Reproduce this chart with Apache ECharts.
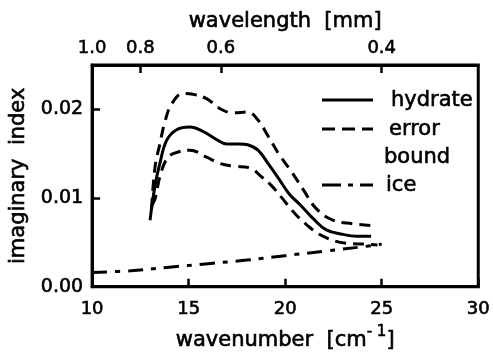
<!DOCTYPE html>
<html>
<head>
<meta charset="utf-8">
<script src="https://cdn.jsdelivr.net/npm/echarts@6/dist/echarts.min.js"></script>
<style>
  html, body { margin: 0; padding: 0; background: #fff; }
  #chart { width: 493px; height: 356px; }
</style>
</head>
<body>
<div id="chart"></div>
<script>
// wavenumber [cm-1] and imaginary index
const hydrateX = [13.0, 13.26, 13.51, 13.86, 14.38, 15.06, 15.75, 16.44, 16.96, 17.65, 18.06, 18.59, 19.11, 19.63, 20.23, 20.75, 21.44, 22.13, 22.99, 23.7, 24.45]
const hydrateY = [0.0075, 0.0114, 0.0139, 0.0165, 0.0177, 0.0180, 0.0175, 0.0166, 0.0161, 0.0161, 0.0160, 0.0154, 0.0139, 0.0123, 0.0104, 0.0093, 0.0077, 0.0064, 0.0059, 0.0057, 0.0057]

const upperX = [13.08, 13.26, 13.51, 13.77, 14.12, 14.72, 15.23, 15.93, 16.61, 17.3, 18.06, 18.59, 19.11, 19.72, 20.32, 20.92, 21.61, 22.47, 23.5, 24.45]
const upperY = [0.0088, 0.0135, 0.0161, 0.0186, 0.0206, 0.0218, 0.0217, 0.0212, 0.0201, 0.0196, 0.0197, 0.0188, 0.0170, 0.0148, 0.0130, 0.0110, 0.0088, 0.0075, 0.0071, 0.0069]

const lowerX = [13.1, 13.26, 13.51, 13.86, 14.2, 15.06, 15.93, 16.61, 17.3, 18.17, 18.77, 19.29, 19.8, 20.4, 21.1, 21.95, 23.16, 24.2, 24.78]
const lowerY = [0.0092, 0.0099, 0.0124, 0.0144, 0.0150, 0.0154, 0.0146, 0.0139, 0.0136, 0.0134, 0.0124, 0.0114, 0.0101, 0.0085, 0.0070, 0.0057, 0.0049, 0.0048, 0.0047]

const iceX = [10, 12, 14, 16, 18, 20, 22, 24, 25]
const iceY = [0.0016, 0.0018, 0.0022, 0.0026, 0.0030, 0.0035, 0.0040, 0.0045, 0.0048]

// top axis tick labels, wavelength in mm
const wavelengthTicks = [1.0, 0.8, 0.6, 0.4]

const pairs = (xs, ys) => xs.map((x, i) => [x, ys[i]])

const FONT = '"DejaVu Sans", "Liberation Sans", Arial, sans-serif'
// thin outline to get the heavier look of the scanned labels
const heavy = { textBorderColor: '#000', textBorderWidth: 0.6 }
const axLine = { show: true, lineStyle: { color: '#000', width: 3 } }
const tick = { show: true, inside: true, length: 8, lineStyle: { color: '#000', width: 2.5 } }
const nameStyle = { color: '#000', fontFamily: FONT, fontSize: 21, ...heavy }

const waveTickPos = wavelengthTicks.map(l => 10 / l)

const legendText = (x, y, text) => ({
  type: 'text',
  style: { x, y, text, font: '21px ' + FONT, fill: '#000', stroke: '#000', lineWidth: 0.6, verticalAlign: 'middle' }
})

const myChart = echarts.init(document.getElementById('chart'))
myChart.setOption({
  backgroundColor: '#fff',
  animation: false,
  grid: {
    left: 91,
    right: 14,
    top: 65,
    bottom: 62,
    show: true,
    borderColor: '#000',
    borderWidth: 3
  },
  xAxis: [
    {
      type: 'value',
      min: 10,
      max: 30,
      interval: 5,
      position: 'bottom',
      name: 'wavenumber  [cm{sup|- 1}]',
      nameLocation: 'middle',
      nameGap: 38,
      nameTextStyle: {
        ...nameStyle,
        rich: { sup: { fontFamily: FONT, fontSize: 15, color: '#000', ...heavy, padding: [0, 0, 16, 0] } }
      },
      axisLine: axLine,
      axisTick: tick,
      axisLabel: { color: '#000', fontFamily: FONT, fontSize: 18, margin: 14, ...heavy },
      splitLine: { show: false }
    },
    {
      type: 'value',
      min: 10,
      max: 30,
      position: 'top',
      name: 'wavelength  [mm]',
      nameLocation: 'middle',
      nameGap: 33,
      nameTextStyle: nameStyle,
      axisLine: axLine,
      axisTick: { ...tick, customValues: waveTickPos.slice(1) },
      axisLabel: {
        color: '#000',
        fontFamily: FONT,
        fontSize: 18,
        margin: 8,
        ...heavy,
        customValues: waveTickPos,
        formatter: v => (10 / v).toFixed(1)
      },
      splitLine: { show: false }
    }
  ],
  yAxis: {
    type: 'value',
    min: 0,
    max: 0.025,
    interval: 0.01,
    name: 'imaginary  index',
    nameLocation: 'middle',
    nameGap: 60,
    nameTextStyle: nameStyle,
    axisLine: axLine,
    axisTick: tick,
    axisLabel: {
      color: '#000',
      fontFamily: FONT,
      fontSize: 19,
      margin: 9,
      ...heavy,
      formatter: v => (v > 0.021 ? '' : v.toFixed(2))
    },
    splitLine: { show: false }
  },
  series: [
    {
      name: 'hydrate',
      type: 'line',
      smooth: 0.4,
      symbol: 'none',
      data: pairs(hydrateX, hydrateY),
      lineStyle: { color: '#000', width: 3 }
    },
    {
      name: 'error upper',
      type: 'line',
      smooth: 0.4,
      symbol: 'none',
      data: pairs(upperX, upperY),
      lineStyle: { color: '#000', width: 3, type: [11, 7] }
    },
    {
      name: 'error lower',
      type: 'line',
      smooth: 0.4,
      symbol: 'none',
      data: pairs(lowerX, lowerY),
      lineStyle: { color: '#000', width: 3, type: [11, 7] }
    },
    {
      name: 'ice',
      type: 'line',
      smooth: 0.4,
      symbol: 'none',
      data: pairs(iceX, iceY),
      lineStyle: { color: '#000', width: 3, type: [15, 8, 5, 8] }
    }
  ],
  graphic: [
    { type: 'line', shape: { x1: 322, y1: 100, x2: 373, y2: 100 }, style: { stroke: '#000', lineWidth: 3 } },
    legendText(391, 101, 'hydrate'),
    { type: 'line', shape: { x1: 322, y1: 129, x2: 373, y2: 129 }, style: { stroke: '#000', lineWidth: 3, lineDash: [13, 7] } },
    legendText(389, 130, 'error'),
    legendText(384, 158, 'bound'),
    { type: 'line', shape: { x1: 322, y1: 185, x2: 373, y2: 185 }, style: { stroke: '#000', lineWidth: 3, lineDash: [19, 7, 5, 7] } },
    legendText(386, 186, 'ice')
  ]
})
</script>
</body>
</html>
